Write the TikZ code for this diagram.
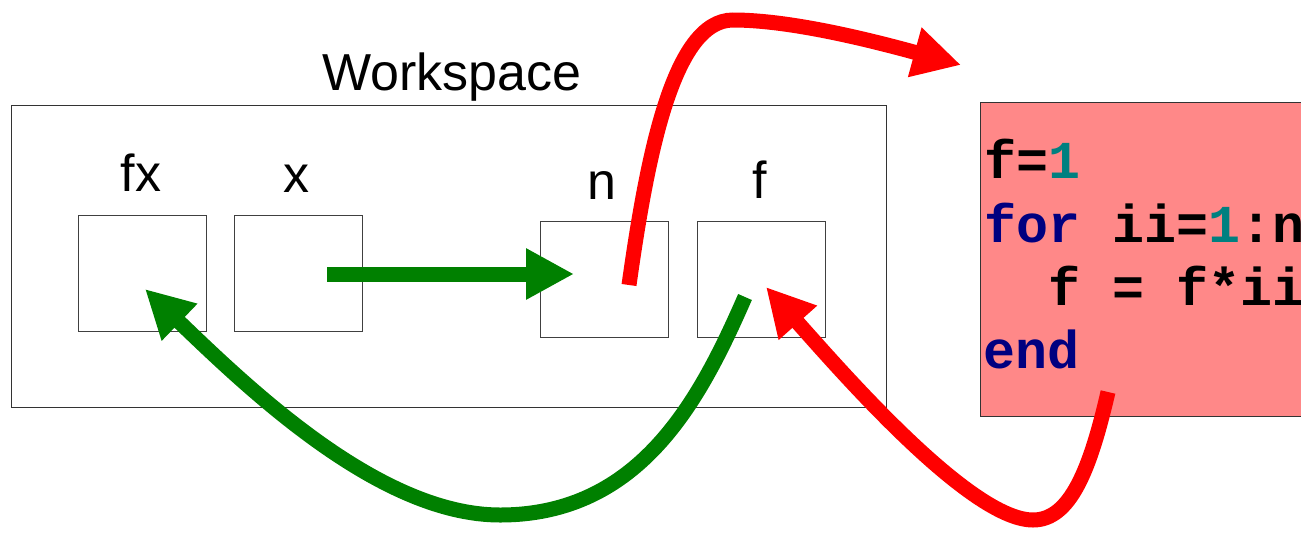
\documentclass[tikz,border=0pt]{standalone}
\usepackage{fontspec}
\setmainfont{Liberation Sans}
\newfontfamily\codefont{Liberation Mono}
\usetikzlibrary{arrows.meta}
\definecolor{kw}{HTML}{000080}
\definecolor{num}{HTML}{008080}
\definecolor{pinkbg}{HTML}{FF8888}
\definecolor{grn}{HTML}{008000}
\definecolor{rd}{HTML}{FF0000}
\begin{document}
\begin{tikzpicture}[x=0.75pt,y=-0.75pt,
  lbl/.style={font=\fontsize{39}{39}\selectfont, anchor=base, inner sep=0},
  varbox/.style={draw=black!75, line width=0.75pt, minimum width=96pt, minimum height=87pt, inner sep=0},
  codeline/.style={font=\codefont\bfseries\fontsize{40}{40}\selectfont, anchor=base west, inner sep=0},
  fatarrow/.style={line width=11.25pt, -{Triangle[length=36pt,width=36pt]}},
  garrow/.style={fatarrow, draw=grn},
  rarrow/.style={fatarrow, draw=rd},
]
\useasboundingbox (0,0) rectangle (1301,532);
\clip (0,0) rectangle (1301,532);

% workspace
\node[draw=black!80, line width=0.75pt, minimum width=656.25pt, minimum height=226.5pt, inner sep=0] (ws) at (448.5,256) {};
\node[lbl] (wsl) at (452,90) {Workspace};

% variables
\node[varbox] (fxbox) at (142,273) {};
\node[varbox] (xbox) at (298,273) {};
\node[varbox] (nbox) at (604,279) {};
\node[varbox] (fbox) at (761,279) {};
\node[lbl] (fxl) at (141,191) {fx};
\node[lbl] (xl) at (296,192) {x};
\node[lbl] (nl) at (602,199) {n};
\node[lbl] (fl) at (760,198) {f};

% code
\node[draw=black!80, fill=pinkbg, line width=0.75pt, minimum width=255pt, minimum height=235.5pt, inner sep=0] (code) at (1150,259) {};
\node[codeline] (l1) at (984,178) {f=\textcolor{num}{1}};
\node[codeline] (l2) at (984,242) {\textcolor{kw}{for} ii=\textcolor{num}{1}:n};
\node[codeline] (l3) at (984,305) {\phantom{ii}f = f*ii};
\node[codeline] (l4) at (983,368) {\textcolor{kw}{end}};

% connectors
\coordinate (xs) at (327,274);
\coordinate (nt) at (574,274);
\draw[garrow] (xs) -- (nt);

\coordinate (fs) at (745,297);
\coordinate (gb) at (500,515);
\coordinate (fxt) at (145,289);
\draw[garrow] (fs) .. controls (700,400) and (640,515) .. (gb) .. controls (380,515) and (250,390) .. (fxt);

\coordinate (ns) at (629,285);
\coordinate (rp) at (733,20);
\coordinate (ct) at (961,65);
\draw[rarrow] (ns) .. controls (647,157) and (673,20) .. (rp) .. controls (790,20) and (870,40) .. (ct);

\coordinate (cs) at (1108,392);
\coordinate (rb) at (1033,520);
\coordinate (ft) at (766,287);
\draw[rarrow] (cs) .. controls (1090,470) and (1070,520) .. (rb) .. controls (970,520) and (840,370) .. (ft);
\end{tikzpicture}
\end{document}
